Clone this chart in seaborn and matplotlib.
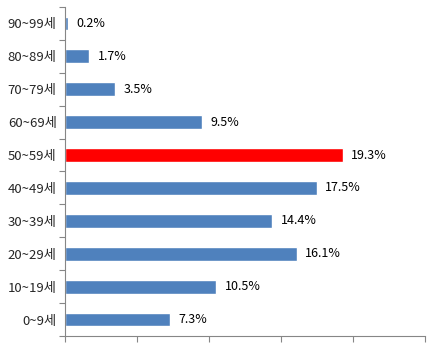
import matplotlib
matplotlib.use("Agg")
import matplotlib.pyplot as plt
import seaborn as sns
import pandas as pd
import numpy as np

categories = ["90~99세", "80~89세", "70~79세", "60~69세", "50~59세",
              "40~49세", "30~39세", "20~29세", "10~19세", "0~9세"]
values = [0.2, 1.7, 3.5, 9.5, 19.3, 17.5, 14.4, 16.1, 10.5, 7.3]
labels = ["0.2%", "1.7%", "3.5%", "9.5%", "19.3%", "17.5%", "14.4%", "16.1%", "10.5%", "7.3%"]
highlight = "50~59세"

sns.set_style("white")
plt.rcParams['font.family'] = ['Noto Sans CJK KR', 'DejaVu Sans']

df = pd.DataFrame({"age": categories, "pct": values})
palette = {c: ("#FF0000" if c == highlight else "#4F81BD") for c in categories}

fig = plt.figure(figsize=(4.36, 3.44), dpi=100)
ax = fig.add_axes([65/436, 8/344, 360/436, 329/344])
sns.barplot(data=df, y="age", x="pct", order=categories, hue="age",
            palette=palette, legend=False, width=0.42, ax=ax, saturation=1)

for i, (v, lab) in enumerate(zip(values, labels)):
    ax.annotate(lab, xy=(v, i), xytext=(6, 0), textcoords="offset points",
                va="center", ha="left", fontsize=9, color="black")

ax.set_xlim(0, 25)
ax.set_ylim(len(categories) - 0.5, -0.5)
ax.set_xticks(np.arange(0, 26, 5))
ax.set_xticklabels([])
ax.set_xlabel("")
ax.set_ylabel("")
ax.set_yticks(range(len(categories)))
ax.set_yticklabels(categories, fontsize=9.5)
ax.set_yticks(np.arange(-0.5, len(categories), 1), minor=True)
ax.tick_params(axis="y", which="both", left=True)
ax.tick_params(axis="x", which="both", bottom=True)
ax.tick_params(axis="y", which="major", length=0, pad=6)
ax.tick_params(axis="y", which="minor", length=4, width=0.8, color="#868686", direction="out")
ax.tick_params(axis="x", which="major", length=4, width=0.8, color="#868686", direction="out")
for s in ["top", "right"]:
    ax.spines[s].set_visible(False)
for s in ["left", "bottom"]:
    ax.spines[s].set_color("#868686")
    ax.spines[s].set_linewidth(0.8)

fig.savefig("out.png", dpi=100)
